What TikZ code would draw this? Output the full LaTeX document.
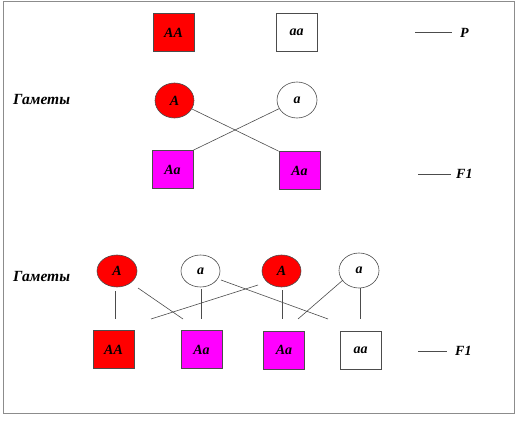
\documentclass[tikz,border=0pt]{standalone}
\usepackage{fontspec}
\setmainfont{Liberation Serif}
\usetikzlibrary{shapes.geometric}
\definecolor{mag}{RGB}{255,0,255}
\definecolor{rd}{RGB}{255,0,0}
\begin{document}
\begin{tikzpicture}[x=1pt,y=-1pt,
  every node/.style={font=\bfseries\itshape\fontsize{14}{16}\selectfont},
  sq/.style={draw=black!70,line width=0.6pt,minimum width=41pt,minimum height=38pt,inner sep=0pt},
  gam/.style={draw=black!70,line width=0.6pt,ellipse,minimum width=39pt,minimum height=33pt,inner sep=0pt},
  lab/.style={inner sep=0pt,anchor=west},
  glab/.style={lab,font=\bfseries\itshape\fontsize{15.5}{18}\selectfont},
  ln/.style={draw=black!70,line width=0.6pt}]
\useasboundingbox (0,0) rectangle (519,422);
\draw[black!45,line width=1pt] (3,2) rectangle (514,413);
% top
\node[sq,fill=rd] (pAA) at (173.5,32.5) {АА};
\node[sq] (paa) at (296.5,32.5) {аа};
\coordinate (pl1) at (415,32); \coordinate (pl2) at (452,32);
\draw[ln] (pl1) -- (pl2);
\node[lab] (pP) at (460,33) {Р};
% gametes 1
\node[glab] (g1) at (13,100) {Гаметы};
\node[gam,fill=rd,minimum height=35pt] (gA) at (174.5,100.5) {А};
\node[gam,minimum height=36pt,minimum width=40pt] (ga) at (297,100) {а};
\node[sq,fill=mag] (fAa1) at (172.5,169.5) {Аа};
\node[sq,fill=mag] (fAa2) at (299.5,170.5) {Аа};
\draw[ln] (gA) -- (fAa2.north west);
\draw[ln] (ga) -- (fAa1.north east);
\coordinate (fl1) at (418,174); \coordinate (fl2) at (451,174);
\draw[ln] (fl1) -- (fl2);
\node[lab] (fF1) at (456,174) {F1};
% gametes 2
\node[glab] (g2) at (13,277) {Гаметы};
\node[gam,fill=rd,minimum height=32pt,minimum width=40pt] (bA1) at (117,271) {А};
\node[gam,minimum height=32pt] (ba1) at (200.5,271) {а};
\node[gam,fill=rd,minimum height=32pt] (bA2) at (281.5,271) {А};
\node[gam,minimum height=35pt,minimum width=40pt] (ba2) at (359,270.5) {а};
\coordinate (e1) at (115,319);
\coordinate (e2) at (183,319);
\coordinate (e3) at (201,319);
\coordinate (e4) at (328,319);
\coordinate (e5) at (151,319);
\coordinate (e6) at (282,319);
\coordinate (e7) at (298,319);
\coordinate (e8) at (360,319);
\coordinate (s1) at (115,291);
\coordinate (s2) at (138,288);
\coordinate (s3) at (201,289);
\coordinate (s4) at (221,280);
\coordinate (s5) at (258,285);
\coordinate (s6) at (282,290);
\coordinate (s7) at (343,280);
\coordinate (s8) at (360,288);
\draw[ln] (s1) -- (e1);
\draw[ln] (s2) -- (e2);
\draw[ln] (s3) -- (e3);
\draw[ln] (s4) -- (e4);
\draw[ln] (s5) -- (e5);
\draw[ln] (s6) -- (e6);
\draw[ln] (s7) -- (e7);
\draw[ln] (s8) -- (e8);
\node[sq,fill=rd] (cAA) at (113.5,349.5) {АА};
\node[sq,fill=mag] (cAa1) at (201.5,349.5) {Аа};
\node[sq,fill=mag] (cAa2) at (284,350) {Аа};
\node[sq] (caa) at (360.5,350) {аа};
\coordinate (cl1) at (418,351); \coordinate (cl2) at (447,351);
\draw[ln] (cl1) -- (cl2);
\node[lab] (cF1) at (455,351) {F1};
\end{tikzpicture}
\end{document}
